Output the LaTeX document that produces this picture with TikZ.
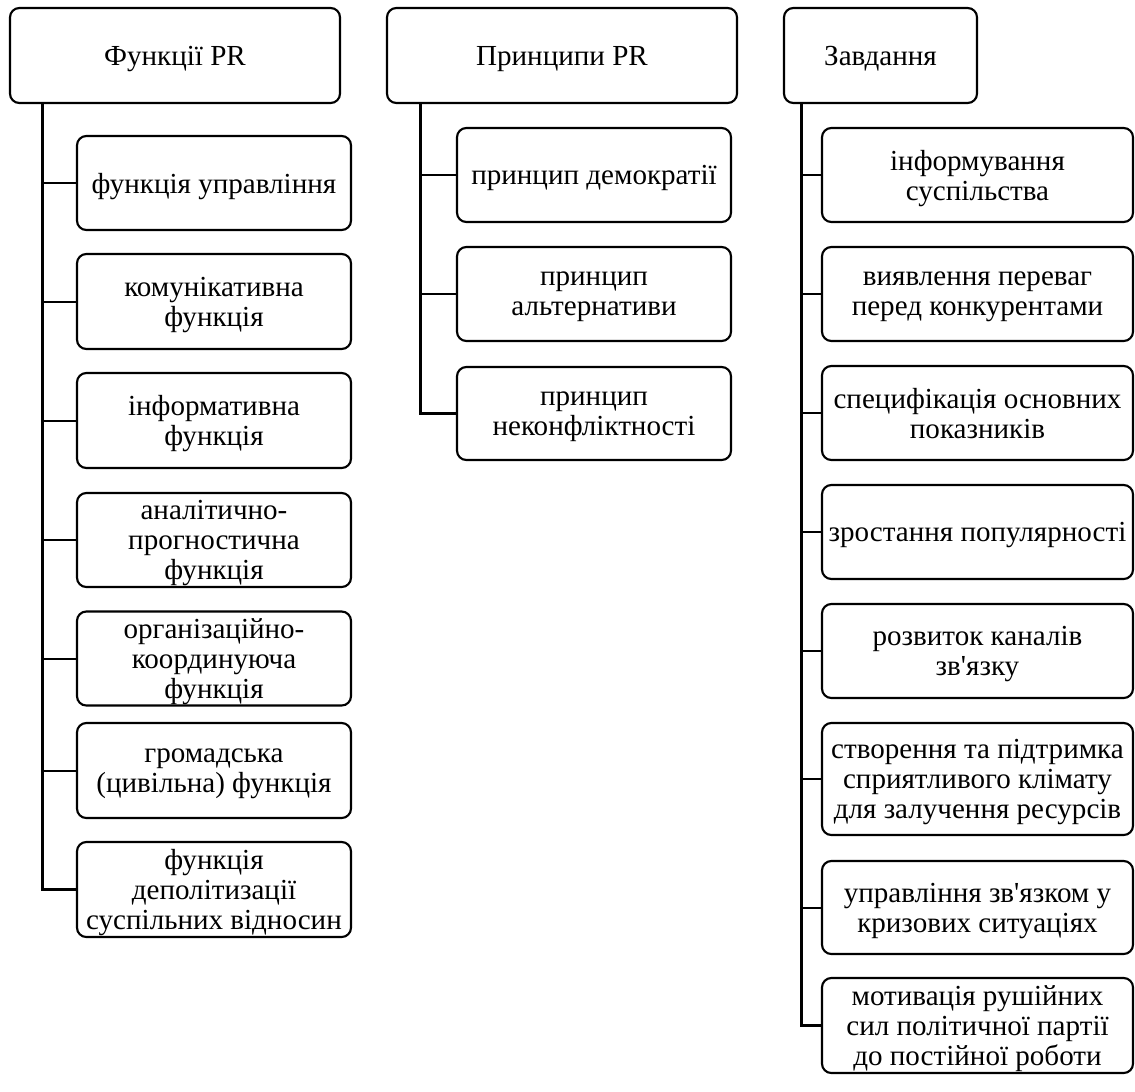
\documentclass[tikz,border=0pt]{standalone}
\usepackage{fontspec}
\setmainfont{Liberation Serif}[Ligatures=TeXOff]
\begin{document}
\begin{tikzpicture}[x=0.75pt,y=-0.75pt,
  box/.style 2 args={draw, line width=1.6pt, rounded corners=7pt, align=center,
    inner sep=0pt, minimum width=#1*0.75pt, minimum height=#2*0.75pt,
    text depth=0pt, font=\fontsize{21.8}{22.5}\selectfont},
  trunk/.style={line width=2.2pt},
  branch/.style={line width=1.5pt}]
\useasboundingbox[fill=white] (0,0) rectangle (1135,1092);
% headers
\node[box={330}{95}] (h1) at (175,55.5) {Функції PR};
\node[box={350}{95}] (h2) at (562,55.5) {Принципи PR};
\node[box={193}{95}] (h3) at (880.5,55.5) {Завдання};
% column 1
\node[box={274}{94}] (c11) at (214,183) {функція управління};
\node[box={274}{95}] (c12) at (214,301.5) {комунікативна\\функція};
\node[box={274}{95}] (c13) at (214,420.5) {інформативна\\функція};
\node[box={274}{94}] (c14) at (214,540) {аналітично-\\прогностична\\функція};
\node[box={274}{94}] (c15) at (214,658.5) {організаційно-\\координуюча\\функція};
\node[box={274}{95}] (c16) at (214,770.5) {громадська\\(цивільна) функція};
\node[box={274}{95}] (c17) at (214,889.5) {функція\\деполітизації\\суспільних відносин};
% column 2
\node[box={274}{94}] (c21) at (594,175) {принцип демократії};
\node[box={274}{94}] (c22) at (594,294) {принцип\\альтернативи};
\node[box={274}{93}] (c23) at (594,413.5) {принцип\\неконфліктності};
% column 3
\node[box={311}{94}] (c31) at (977.5,175) {інформування\\суспільства};
\node[box={311}{94}] (c32) at (977.5,294) {виявлення переваг\\перед конкурентами};
\node[box={311}{94}] (c33) at (977.5,413) {специфікація основних\\показників};
\node[box={311}{94}] (c34) at (977.5,532) {зростання популярності};
\node[box={311}{94}] (c35) at (977.5,651) {розвиток каналів\\зв'язку};
\node[box={311}{112}] (c36) at (977.5,779) {створення та підтримка\\сприятливого клімату\\для залучення ресурсів};
\node[box={311}{93}] (c37) at (977.5,907.5) {управління зв'язком у\\кризових ситуаціях};
\node[box={311}{95}] (c38) at (977.5,1025.5) {мотивація рушійних\\сил політичної партії\\до постійної роботи};
% trunks
\coordinate (t1) at ([xshift=25.5pt]h1.south west);
\coordinate (t2) at ([xshift=26.25pt]h2.south west);
\coordinate (t3) at ([xshift=14.25pt]h3.south west);
\draw[trunk] (t1) |- (c17.west);
\draw[trunk] (t2) |- (c23.west);
\draw[trunk] (t3) |- (c38.west);
\foreach \i in {1,...,6} \draw[branch] (c1\i.west) -- (c1\i.west -| t1);
\foreach \i in {1,2} \draw[branch] (c2\i.west) -- (c2\i.west -| t2);
\foreach \i in {1,...,7} \draw[branch] (c3\i.west) -- (c3\i.west -| t3);
\end{tikzpicture}
\end{document}
